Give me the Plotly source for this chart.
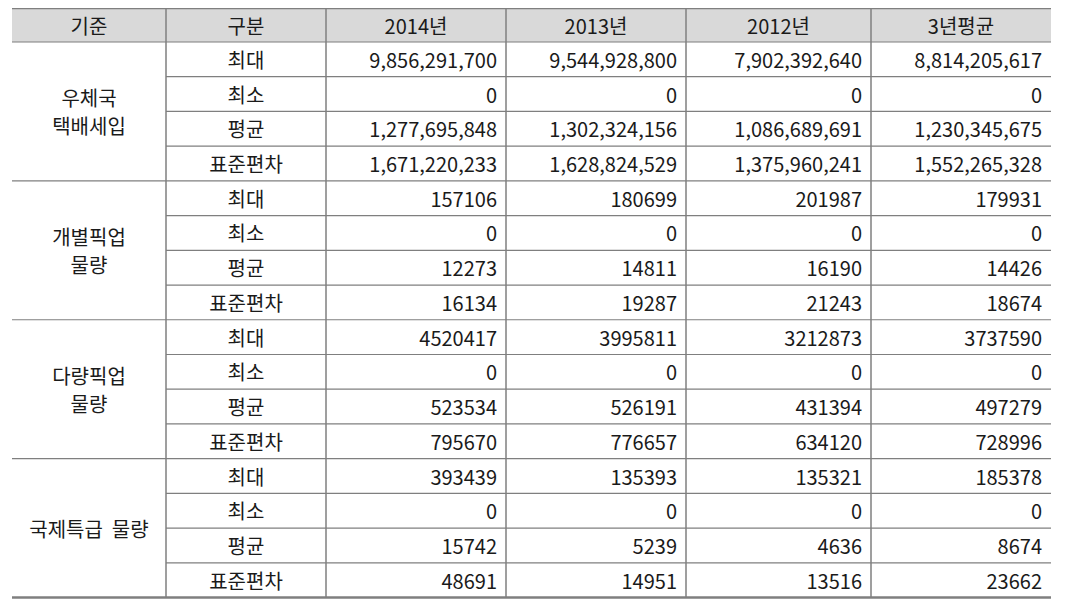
import plotly.graph_objects as go

# 표 데이터
col_titles = ["기준", "구분", "2014년", "2013년", "2012년", "3년평균"]
groups = [["우체국", "택배세입"], ["개별픽업", "물량"], ["다량픽업", "물량"], ["국제특급  물량"]]
stats = ["최대", "최소", "평균", "표준편차"]
use_comma = [True, False, False, False]

# 각 그룹: [최대, 최소, 평균, 표준편차] x [2014, 2013, 2012, 3년평균]
post_revenue = [
    [9856291700, 9544928800, 7902392640, 8814205617],
    [0, 0, 0, 0],
    [1277695848, 1302324156, 1086689691, 1230345675],
    [1671220233, 1628824529, 1375960241, 1552265328],
]
single_pickup = [
    [157106, 180699, 201987, 179931],
    [0, 0, 0, 0],
    [12273, 14811, 16190, 14426],
    [16134, 19287, 21243, 18674],
]
bulk_pickup = [
    [4520417, 3995811, 3212873, 3737590],
    [0, 0, 0, 0],
    [523534, 526191, 431394, 497279],
    [795670, 776657, 634120, 728996],
]
ems_volume = [
    [393439, 135393, 135321, 185378],
    [0, 0, 0, 0],
    [15742, 5239, 4636, 8674],
    [48691, 14951, 13516, 23662],
]
group_values = [post_revenue, single_pickup, bulk_pickup, ems_volume]

# 레이아웃 (페이지 픽셀 좌표, body 여백 8px 반영)
W, H = 1073, 608
PAD = 8
col_edges = [12, 166, 326, 506, 686, 871, 1051]
top, head_h, row_h = 8, 34, 34.72
FONT = "Noto Sans CJK KR"
FS = 20
DY = 3.5       # 글자 세로 보정
LINE_GAP = 28  # 그룹 이름 줄 간격
LINE = "#7f7f7f"
TXT = "#1a1a1a"
n_rows = len(groups) * len(stats)


def row_y(i):
    return top + head_h + row_h * (i + 0.5)


def mid(a, b):
    return (a + b) / 2


fig = go.Figure()

# 헤더
fig.add_trace(go.Scatter(
    x=[mid(col_edges[i], col_edges[i + 1]) for i in range(len(col_titles))],
    y=[top + head_h / 2 + DY] * len(col_titles),
    text=col_titles, mode="text", textposition="middle center",
    textfont=dict(family=FONT, size=FS, color=TXT), hoverinfo="skip"))

# 기준 (그룹 이름, 줄마다 따로)
gx, gy, gt = [], [], []
for g, lines in enumerate(groups):
    yc = top + head_h + row_h * len(stats) * (g + 0.5) + DY
    for k, t in enumerate(lines):
        gx.append(mid(col_edges[0], col_edges[1]))
        gy.append(yc + (k - (len(lines) - 1) / 2) * LINE_GAP)
        gt.append(t)
fig.add_trace(go.Scatter(
    x=gx, y=gy, text=gt, mode="text", textposition="middle center",
    textfont=dict(family=FONT, size=FS, color=TXT), hoverinfo="skip"))

# 구분
fig.add_trace(go.Scatter(
    x=[mid(col_edges[1], col_edges[2])] * n_rows,
    y=[row_y(i) + DY for i in range(n_rows)],
    text=stats * len(groups), mode="text", textposition="middle center",
    textfont=dict(family=FONT, size=FS, color=TXT), hoverinfo="skip"))

# 수치
for c in range(4):
    xs, ys, ts = [], [], []
    for g, vals in enumerate(group_values):
        for s in range(len(stats)):
            v = vals[s][c]
            xs.append(col_edges[c + 3] - 9)
            ys.append(row_y(g * len(stats) + s) + DY)
            ts.append(f"{v:,}" if use_comma[g] else str(v))
    fig.add_trace(go.Scatter(
        x=xs, y=ys, text=ts, mode="text", textposition="middle left",
        textfont=dict(family=FONT, size=FS, color=TXT), hoverinfo="skip"))

shapes = []
bottom = top + head_h + row_h * n_rows
# 헤더 배경
shapes.append(dict(type="rect", x0=col_edges[0], x1=col_edges[-1], y0=top, y1=top + head_h,
                   fillcolor="#d9d9d9", line=dict(width=0), layer="below"))
# 세로선
for x in col_edges[1:-1]:
    shapes.append(dict(type="line", x0=x, x1=x, y0=top, y1=bottom, line=dict(color=LINE, width=1.5)))
# 가로선
for i in range(1, n_rows):
    x0 = col_edges[0] if i % len(stats) == 0 else col_edges[1]
    y = top + head_h + row_h * i
    shapes.append(dict(type="line", x0=x0, x1=col_edges[-1], y0=y, y1=y, line=dict(color=LINE, width=1.2)))
shapes.append(dict(type="line", x0=col_edges[0], x1=col_edges[-1], y0=top + head_h, y1=top + head_h,
                   line=dict(color=LINE, width=1.2)))
for y in (top, bottom):
    shapes.append(dict(type="line", x0=col_edges[0], x1=col_edges[-1], y0=y, y1=y, line=dict(color=LINE, width=2.5)))

fig.update_layout(
    width=W - 2 * PAD, height=H - 2 * PAD, margin=dict(l=0, r=0, t=0, b=0),
    paper_bgcolor="white", plot_bgcolor="white", showlegend=False,
    xaxis=dict(range=[PAD, W - PAD], visible=False, fixedrange=True),
    yaxis=dict(range=[H - PAD, PAD], visible=False, fixedrange=True),
    shapes=shapes,
)

fig.write_html("out.html")
